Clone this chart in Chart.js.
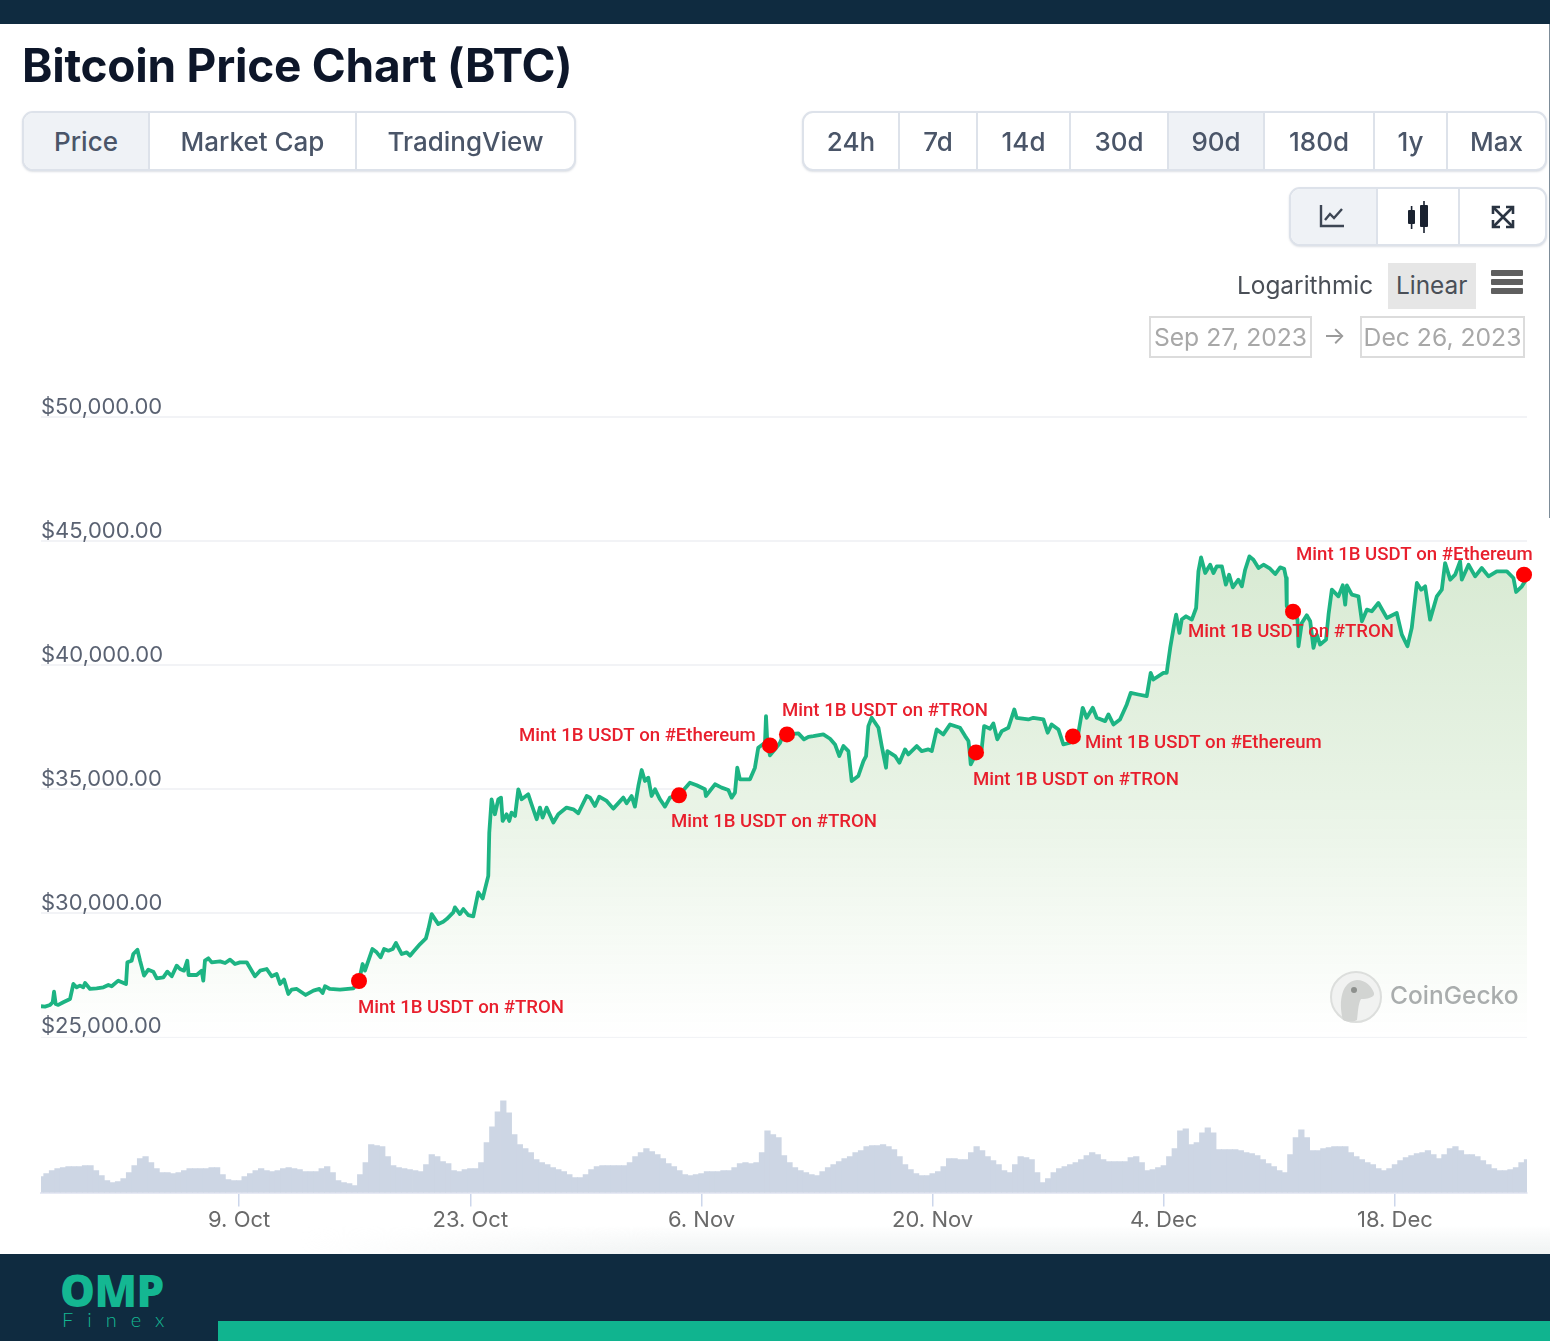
<!DOCTYPE html>
<html>
<head>
<meta charset="utf-8">
<title>Bitcoin Price Chart (BTC)</title>
<script src="https://cdn.jsdelivr.net/npm/chart.js@4/dist/chart.umd.min.js"></script>
<style>
  html, body { margin: 0; padding: 0; background: #fff; }
  body { position: relative; width: 1550px; height: 1341px; overflow: hidden; font-family: Inter, sans-serif; }
  .abs { position: absolute; }
  #chart { position: absolute; left: 0; top: 0; }
  .title { left: 22px; top: 36px; font-size: 46px; font-weight: 700; color: #0d1629; letter-spacing: -0.25px; line-height: 58px; white-space: nowrap; }
  .group { border: 2px solid #dde2ea; border-radius: 11px; box-sizing: border-box; overflow: hidden; background: #fff; box-shadow: 0 1px 2px rgba(120,130,150,.25); }
  .cell { position: absolute; top: 0; bottom: 0; display: flex; align-items: center; justify-content: center; font-size: 26px; font-weight: 500; color: #4a5568; box-sizing: border-box; border-right: 2px solid #dde2ea; }
  .cell.last { border-right: 0; }
  .cell.on { background: #eff2f6; }
  .plain { font-size: 24.4px; font-weight: 400; color: #4a4f57; white-space: nowrap; line-height: 32px; }
  .datebox { border: 2px solid #dcdcdc; box-sizing: border-box; height: 42px; top: 316px; color: #a8a8a8; font-size: 24.7px; display: flex; align-items: center; justify-content: center; white-space: nowrap; }
  .bar { left: 1491px; width: 32px; height: 6px; background: #5f5f5f; border-radius: 1px; }
</style>
</head>
<body>

<div class="abs" style="left:0;top:0;width:1550px;height:24px;background:#0f2b40"></div>
<div class="abs" style="left:1549px;top:24px;width:1px;height:494px;background:#7d8c98"></div>
<div class="abs" style="left:300px;top:1225px;width:1250px;height:29px;background:linear-gradient(to bottom,rgba(240,243,243,0),rgba(240,243,243,1));-webkit-mask-image:linear-gradient(to right,transparent,#000 30%)"></div>

<canvas id="chart" width="1550" height="1341"></canvas>

<div class="abs title">Bitcoin Price Chart (BTC)</div>

<div class="abs group" style="left:22px;top:111px;width:554px;height:60px">
  <div class="cell on" style="left:0;width:126px">Price</div>
  <div class="cell" style="left:126px;width:207px">Market Cap</div>
  <div class="cell last" style="left:333px;width:217px">TradingView</div>
</div>

<div class="abs group" style="left:802px;top:111px;width:745px;height:60px">
  <div class="cell" style="left:0;width:96px">24h</div>
  <div class="cell" style="left:96px;width:78px">7d</div>
  <div class="cell" style="left:174px;width:93px">14d</div>
  <div class="cell" style="left:267px;width:98px">30d</div>
  <div class="cell on" style="left:365px;width:96px">90d</div>
  <div class="cell" style="left:461px;width:110px">180d</div>
  <div class="cell" style="left:571px;width:73px">1y</div>
  <div class="cell last" style="left:644px;width:97px">Max</div>
</div>

<div class="abs group" style="left:1289px;top:187px;width:258px;height:59px">
  <div class="cell on" style="left:0;width:87px">
    <svg width="28" height="26" viewBox="0 0 28 26" fill="none" stroke="#3d4654" stroke-width="2.4" style="margin:-2px 4px 0 0"><path d="M3 2v21h23"/><path d="M7 17l5-6 4 4 8-9"/></svg>
  </div>
  <div class="cell" style="left:87px;width:82px">
    <svg width="26" height="32" viewBox="0 0 26 32" fill="#1a2230"><rect x="3" y="9" width="7" height="14" rx="1"/><rect x="5.8" y="5" width="1.6" height="23"/><rect x="15" y="4" width="8" height="22" rx="1"/><rect x="18.2" y="0" width="1.6" height="32"/></svg>
  </div>
  <div class="cell last" style="left:169px;width:85px">
    <svg width="24" height="24" viewBox="0 0 24 24" fill="none" stroke="#2a3442" stroke-width="2.6"><path d="M2 9V2h7M22 9V2h-7M2 15v7h7M22 15v7h-7"/><path d="M3 3l18 18M21 3L3 21"/></svg>
  </div>
</div>

<div class="abs plain" style="left:1237px;top:269px">Logarithmic</div>
<div class="abs" style="left:1388px;top:263px;width:88px;height:46px;background:#e6e6e6"></div>
<div class="abs plain" style="left:1396px;top:269px">Linear</div>
<div class="abs bar" style="top:270px"></div>
<div class="abs bar" style="top:279px"></div>
<div class="abs bar" style="top:288px"></div>

<div class="abs datebox" style="left:1149px;width:163px">Sep 27, 2023</div>
<div class="abs" style="left:1323px;top:321px;font-size:24px;color:#9a9a9a">→</div>
<div class="abs datebox" style="left:1360px;width:165px">Dec 26, 2023</div>

<svg class="abs" style="left:1330px;top:971px" width="54" height="52" viewBox="0 0 54 52">
  <ellipse cx="26" cy="26" rx="25" ry="25" fill="#f1f2f1" stroke="#dcdedc" stroke-width="2"/>
  <path d="M13 49C8 30 12 10 27 9c9 0 15 7 17 13 1 4-6 6-13 6-3 5-3 14-4 21-4 2-10 2-14 0z" fill="#d2d4d2"/>
  <circle cx="24" cy="19" r="3" fill="#8d908d"/>
</svg>
<div class="abs" style="left:1390px;top:980px;font-size:24.5px;font-weight:500;color:#a9adad;white-space:nowrap">CoinGecko</div>

<div class="abs" style="left:0;top:1254px;width:1550px;height:87px;background:#0f2b40"></div>
<div class="abs" style="left:218px;top:1321px;width:1332px;height:20px;background:#10b48f"></div>
<div class="abs" style="left:60px;top:1262px;font-family:'Open Sans',sans-serif;font-size:44px;font-weight:800;line-height:56px;color:#14b792;letter-spacing:-0.5px">OMP</div>
<div class="abs" style="left:62px;top:1306px;font-family:Lato,sans-serif;font-size:20px;font-weight:300;line-height:26px;color:#14b792;letter-spacing:14px;white-space:nowrap">Finex</div>

<script>
// days since Sep 27, 2023 and BTC price
const priceDays = [
    0, .24, .55, .71, .79, .89, 1.05, 1.35, 1.76, 1.96, 2.16, 2.36, 2.56, 2.67, 2.97, 3.37, 3.78, 4.08, 4.28, 4.68,
    5.15, 5.23, 5.49, 5.59, 5.84, 6, 6.24, 6.5, 6.8, 7.01, 7.41, 7.65, 7.92, 8.22, 8.42, 8.66, 8.86, 8.94, 9.43, 9.73,
    9.83, 9.93, 10.14, 10.34, 10.84, 11.15, 11.45, 11.75, 12.05, 12.46, 12.76, 12.96, 13.27, 13.67, 13.97, 14.27, 14.48, 14.72, 14.98, 15.18,
    15.49, 16.03, 16.5, 16.86, 17.06, 17.2, 17.5, 18.11, 18.92, 19.26, 19.48, 19.62, 19.83, 20.07, 20.33, 20.57, 20.78, 21.04, 21.3, 21.5,
    21.85, 22.15, 22.35, 22.55, 22.96, 23.31, 23.46, 23.66, 23.86, 24.06, 24.36, 24.57, 24.97, 25.07, 25.37, 25.58, 25.88, 26.18, 26.48, 26.75,
    26.89, 27.09, 27.15, 27.29, 27.49, 27.7, 27.86, 27.96, 28.2, 28.36, 28.5, 28.71, 28.91, 29.11, 29.51, 29.71, 30.02, 30.22, 30.38, 30.62,
    31.03, 31.33, 31.83, 32.24, 32.54, 33.05, 33.25, 33.55, 33.81, 34.26, 34.66, 35.27, 35.47, 35.77, 35.97, 36.18, 36.38, 36.58, 36.78, 36.98,
    37.19, 37.49, 37.79, 38.09, 38.64, 39.3, 39.71, 40.21, 40.27, 40.82, 41.22, 41.63, 41.83, 42.03, 42.17, 42.33, 42.94, 43.24, 43.44, 43.85,
    43.91, 43.99, 44.15, 44.45, 44.76, 44.96, 45.2, 45.87, 46.21, 46.48, 46.78, 47.38, 47.79, 48.09, 48.35, 48.6, 48.9, 49.1, 49.5, 49.81,
    49.97, 50.11, 50.31, 50.72, 50.92, 51.18, 51.26, 51.73, 51.99, 52.33, 52.53, 53.04, 53.34, 53.74, 53.95, 54.25, 54.65, 55.06, 55.66, 55.97,
    56.17, 56.23, 56.31, 56.67, 56.97, 57.12, 57.48, 57.68, 57.92, 58.19, 58.59, 58.95, 59.09, 59.8, 60.1, 60.71, 60.97, 61.21, 61.62, 61.92,
    62.33, 62.63, 62.83, 63.09, 63.33, 63.7, 63.94, 64.45, 64.65, 64.95, 65.35, 65.76, 66, 66.46, 66.97, 67.21, 67.37, 67.98, 68.18, 68.22,
    68.39, 68.63, 68.75, 68.95, 69.09, 69.35, 69.7, 69.96, 70.1, 70.26, 70.51, 70.81, 71.01, 71.21, 71.52, 71.76, 71.96, 72.18, 72.52, 72.73,
    72.93, 73.19, 73.43, 73.74, 74.04, 74.44, 74.75, 75.05, 75.29, 75.41, 75.45, 75.86, 76.1, 76.16, 76.36, 76.66, 76.87, 77.07, 77.27, 77.47,
    77.83, 77.98, 78.18, 78.58, 78.84, 78.99, 79.09, 79.39, 79.79, 80, 80.3, 80.6, 81, 81.51, 82.11, 82.42, 82.76, 83.02, 83.33, 83.59,
    83.83, 84.13, 84.54, 84.84, 85.04, 85.35, 85.65, 85.95, 86.05, 86.46, 86.86, 87.26, 87.67, 88.17, 88.78, 89.18, 89.34, 89.69, 90
];
const priceValues = [
    26235, 26222, 26288, 26396, 26825, 26329, 26288, 26396, 26530, 27134, 27000, 27067, 27000, 27174, 26933, 26960, 27000, 27094, 27040, 27268,
    27134, 28006, 28073, 28342, 28516, 28073, 27470, 27711, 27631, 27362, 27402, 27631, 27443, 27872, 27738, 27671, 28073, 27496, 27496, 27671,
    27268, 28073, 28167, 28006, 28047, 27980, 28114, 27939, 28006, 28006, 27671, 27443, 27671, 27738, 27443, 27537, 27134, 27309, 26732, 26906,
    26933, 26691, 26866, 26933, 26772, 27040, 26933, 26906, 26960, 27254, 27939, 27671, 28073, 28543, 28409, 28208, 28543, 28476, 28543, 28785,
    28342, 28409, 28275, 28436, 28744, 28972, 29348, 29952, 29751, 29549, 29643, 29751, 30019, 30221, 29952, 30154, 29912, 29858, 30824, 30583,
    30959, 31495, 33240, 34582, 33978, 34582, 34649, 33710, 33978, 33710, 34045, 33911, 34985, 34582, 34783, 34381, 33777, 34247, 33844, 34247,
    33643, 33978, 34247, 34179, 34018, 34716, 34649, 34314, 34689, 34515, 34206, 34649, 34421, 34716, 34287, 35119, 35763, 35320, 35454, 34716,
    34985, 34582, 34287, 34649, 34742, 35253, 35146, 34985, 34716, 35186, 35052, 34958, 34649, 34850, 35857, 35387, 35387, 35857, 36662, 36863,
    37937, 36863, 36353, 36595, 36863, 37199, 37198, 37239, 36997, 37104, 37131, 37198, 37024, 36796, 36326, 36729, 36527, 35320, 35521, 36125,
    36326, 37534, 37869, 37467, 36729, 35856, 36527, 36326, 36058, 36594, 36393, 36729, 36527, 36594, 36527, 37400, 37198, 37601, 37467, 37131,
    36930, 36594, 35990, 36460, 36594, 37534, 37426, 37641, 36997, 37333, 37467, 38205, 37869, 37802, 37869, 37802, 37265, 37601, 37400, 36796,
    36863, 37131, 37265, 38272, 37869, 38272, 37869, 37735, 38004, 37601, 37802, 38406, 38876, 38809, 38742, 39681, 39413, 39681, 39681, 39883,
    40688, 41627, 42030, 41292, 41829, 41963, 41829, 42298, 43772, 44338, 43707, 44043, 43707, 43976, 43976, 43238, 43640, 43130, 43439, 43171,
    43841, 44378, 44244, 43909, 44043, 43882, 43667, 43936, 43882, 43506, 42365, 42164, 41829, 40755, 41694, 42003, 41761, 40688, 41225, 40822,
    41023, 42030, 43036, 42768, 43211, 42432, 43211, 42835, 42768, 41761, 42231, 42164, 42500, 41896, 42097, 41225, 40755, 41493, 43305, 43036,
    43171, 41829, 42768, 43036, 44110, 43439, 43640, 44177, 43439, 44043, 43573, 43909, 43573, 43774, 43774, 43506, 42942, 43171, 43506
];

// volume silhouette, one reading every 8 hours from Sep 27
const volumeStep = 1 / 3;
const volumeValues = [
    16, 19, 22, 24, 25, 26, 26, 26, 27, 27, 22, 17, 12, 10, 11, 14, 20, 27, 34, 36, 30, 24, 20, 20, 19, 20, 22, 24, 24, 24,
    24, 25, 25, 18, 13, 12, 12, 16, 19, 22, 24, 22, 21, 22, 24, 25, 24, 23, 21, 21, 21, 24, 26, 20, 12, 10, 9, 7, 18, 30,
    48, 47, 46, 36, 27, 25, 24, 23, 22, 21, 28, 38, 36, 31, 29, 22, 21, 23, 24, 24, 30, 50, 66, 81, 92, 80, 58, 48, 44, 40,
    33, 30, 28, 25, 23, 21, 18, 15, 15, 18, 23, 26, 27, 27, 27, 27, 27, 30, 36, 40, 44, 41, 38, 34, 29, 26, 22, 18, 17, 18,
    19, 21, 21, 21, 22, 22, 25, 29, 30, 29, 30, 40, 62, 58, 55, 37, 30, 25, 22, 20, 18, 17, 21, 25, 28, 31, 34, 36, 40, 42,
    46, 47, 47, 48, 46, 43, 36, 28, 23, 19, 17, 17, 19, 21, 26, 34, 34, 33, 33, 40, 46, 42, 36, 32, 28, 22, 20, 28, 36, 35,
    33, 20, 10, 14, 20, 24, 26, 28, 30, 33, 37, 40, 38, 33, 31, 31, 31, 31, 35, 36, 30, 22, 23, 25, 27, 36, 44, 62, 64, 48,
    50, 60, 65, 60, 43, 43, 43, 43, 42, 40, 39, 37, 33, 29, 26, 22, 20, 38, 55, 63, 55, 42, 42, 44, 45, 46, 46, 46, 40, 36,
    33, 30, 28, 24, 22, 24, 28, 32, 35, 37, 39, 40, 42, 38, 34, 38, 44, 46, 42, 38, 38, 36, 32, 28, 24, 22, 22, 23, 25, 30, 33
];

// mint events
const markerDays = [19.26, 38.64, 44.15, 45.18, 56.63, 62.5, 75.83, 89.82];
const markerPrices = [27254, 34742, 36755, 37198, 36473, 37118, 42150, 43640];
const markerLabels = [
    'Mint 1B USDT on #TRON', 'Mint 1B USDT on #TRON', 'Mint 1B USDT on #Ethereum', 'Mint 1B USDT on #TRON',
    'Mint 1B USDT on #TRON', 'Mint 1B USDT on #Ethereum', 'Mint 1B USDT on #TRON', 'Mint 1B USDT on #Ethereum'
];

const xTickDays = [12, 26, 40, 54, 68, 82];
const xTickLabels = ['9. Oct', '23. Oct', '6. Nov', '20. Nov', '4. Dec', '18. Dec'];
const yTickValues = [25000, 30000, 35000, 40000, 45000, 50000];

// where each event label sits relative to its dot
const labelOffsets = [[-1, 27], [-8, 27], [-251, -9], [-5, -23], [-3, 28], [12, 7], [-105, 21], [-228, -19]];

const mintLabelPlugin = {
    id: 'mintLabels',
    afterDatasetsDraw(chart) {
        const ctx = chart.ctx;
        const points = chart.getDatasetMeta(2).data;
        ctx.save();
        ctx.font = '500 18.6px Roboto, sans-serif';
        ctx.fillStyle = '#e81f2d';
        ctx.textAlign = 'left';
        ctx.textBaseline = 'middle';
        points.forEach((pt, i) => {
            ctx.fillText(markerLabels[i], pt.x + labelOffsets[i][0], pt.y + labelOffsets[i][1]);
        });
        ctx.restore();
    }
};

function areaGradient(context) {
    const { chart } = context;
    if (!chart.chartArea) return '#e7f2e3';
    const yScale = chart.scales.y;
    const g = chart.ctx.createLinearGradient(0, yScale.getPixelForValue(44500), 0, yScale.getPixelForValue(25000));
    g.addColorStop(0, '#d8ead3');
    g.addColorStop(0.5, '#e8f3e5');
    g.addColorStop(1, 'rgba(255,255,255,0.9)');
    return g;
}

new Chart(document.getElementById('chart').getContext('2d'), {
    type: 'line',
    data: {
        datasets: [
            {
                type: 'bar',
                data: volumeValues.map((v, i) => ({ x: i * volumeStep, y: v })),
                yAxisID: 'yVolume',
                backgroundColor: '#cdd6e4',
                barThickness: 5.6,
                order: 3
            },
            {
                data: priceDays.map((d, i) => ({ x: d, y: priceValues[i] })),
                yAxisID: 'y',
                borderColor: '#1db483',
                borderWidth: 3.8,
                borderJoinStyle: 'round',
                pointRadius: 0,
                tension: 0,
                fill: { value: 25000 },
                backgroundColor: areaGradient,
                order: 2
            },
            {
                data: markerDays.map((d, i) => ({ x: d, y: markerPrices[i] })),
                yAxisID: 'y',
                showLine: false,
                pointRadius: 8,
                pointBackgroundColor: '#ff0000',
                pointBorderWidth: 0,
                clip: false,
                order: 1
            }
        ]
    },
    options: {
        responsive: false,
        animation: false,
        devicePixelRatio: 1,
        layout: { padding: { left: 41, right: 23, top: 417, bottom: 106 } },
        plugins: { legend: { display: false }, tooltip: { enabled: false } },
        scales: {
            x: {
                type: 'linear',
                min: 0,
                max: 90,
                offset: false,
                afterBuildTicks(axis) { axis.ticks = xTickDays.map(value => ({ value })); },
                ticks: {
                    autoSkip: false,
                    maxRotation: 0,
                    padding: 1,
                    color: '#6a6a6a',
                    font: { family: 'Inter, sans-serif', size: 22 },
                    callback: value => xTickLabels[xTickDays.indexOf(value)]
                },
                grid: { offset: false, drawOnChartArea: false, color: '#ccd6eb', lineWidth: 1.5, tickLength: 14 },
                border: { color: '#e6e9f4', width: 2 }
            },
            yVolume: {
                stack: 'panes',
                stackWeight: 156,
                position: 'left',
                min: 0,
                max: 156,
                ticks: { display: false },
                grid: { display: false, drawTicks: false },
                border: { display: false }
            },
            y: {
                stack: 'panes',
                stackWeight: 621,
                position: 'left',
                min: 25000,
                max: 50000,
                afterBuildTicks(axis) { axis.ticks = yTickValues.map(value => ({ value })); },
                ticks: {
                    z: 1,
                    mirror: true,
                    padding: 0,
                    labelOffset: -10,
                    color: '#5a6272',
                    font: { family: 'Inter, sans-serif', size: 22 },
                    callback: value => '$' + value.toLocaleString('en-US', { minimumFractionDigits: 2 })
                },
                grid: { color: '#f2f3f6', lineWidth: 2, drawTicks: false },
                border: { display: false }
            }
        }
    },
    plugins: [mintLabelPlugin]
});
</script>
</body>
</html>
